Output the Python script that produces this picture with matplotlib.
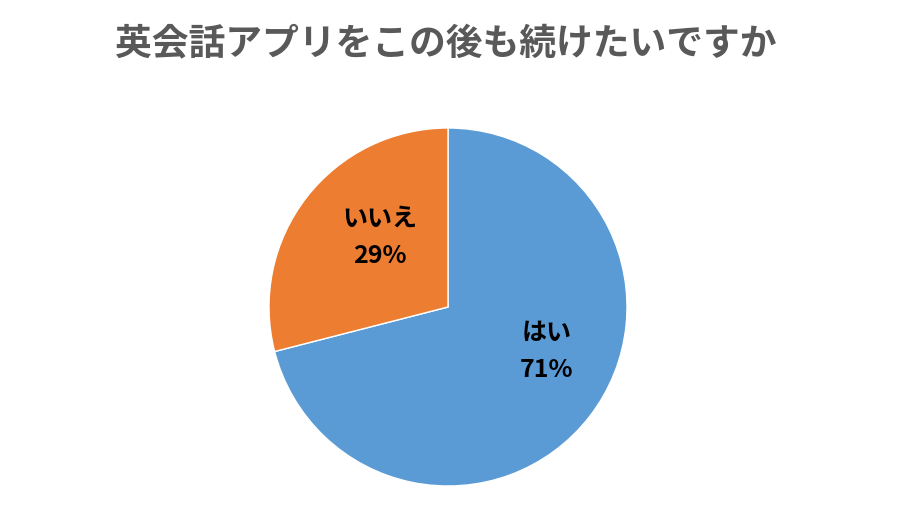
import matplotlib
matplotlib.use("Agg")
from matplotlib import pyplot as plt

plt.rcParams['font.family'] = ['Noto Sans CJK JP', 'DejaVu Sans']

title = "英会話アプリをこの後も続けたいですか"
labels = ["はい", "いいえ"]
values = [71, 29]
colors = ["#5B9BD5", "#ED7D31"]
# label positions (data coords, pie radius = 1)
label_pos = [(0.55, -0.25), (-0.38, 0.39)]

fig = plt.figure(figsize=(8.97, 5.31), dpi=100)
fig.text(446/897, 1 - 45/531, title, ha='center', va='center', fontsize=26.5,
         fontweight='bold', color='#595959')

ax = fig.add_axes([269/897, 45/531, 358/897, 358/531])
ax.pie(values, colors=colors, startangle=90, counterclock=False,
       wedgeprops=dict(edgecolor='white', linewidth=1.0), radius=1.0)
ax.set_xlim(-1, 1)
ax.set_ylim(-1, 1)
ax.set_aspect('equal')
ax.axis('off')

for lab, v, (x, y) in zip(labels, values, label_pos):
    ax.text(x, y, f"{lab}\n{v}%", ha='center', va='center', fontsize=18,
            fontweight='bold', color='black', linespacing=1.7)

fig.savefig("out.png", dpi=100)
